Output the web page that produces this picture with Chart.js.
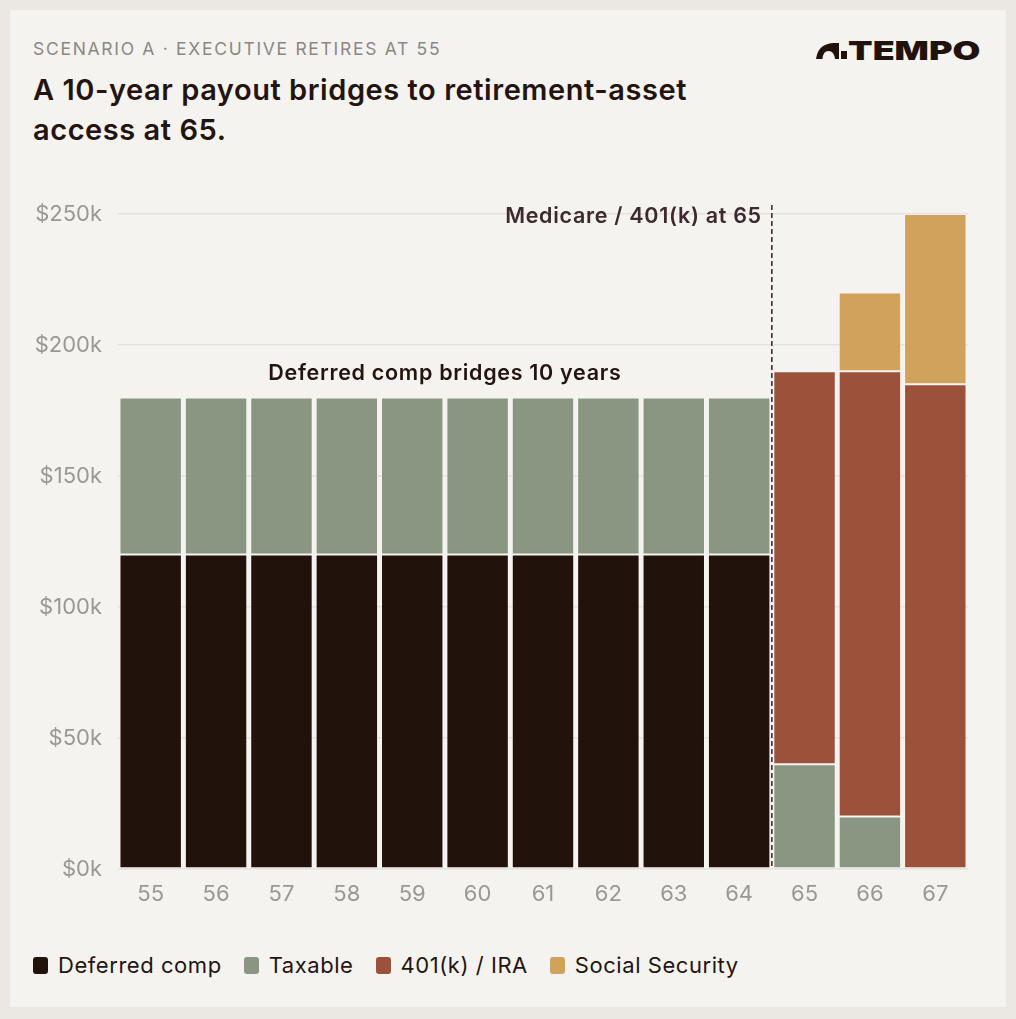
<!DOCTYPE html>
<html>
<head>
<meta charset="utf-8">
<script src="https://cdn.jsdelivr.net/npm/chart.js@4.4.1/dist/chart.umd.min.js"></script>
<style>
  html, body { margin: 0; padding: 0; }
  body { width: 1016px; height: 1019px; background: #ebe8e3; position: relative; font-family: Inter, "Noto Sans", sans-serif; overflow: hidden; }
  .card { position: absolute; left: 10px; top: 10px; width: 996px; height: 997px; background: #f5f3ef; }
  .kicker { position: absolute; left: 33px; top: 38px; font-size: 17.5px; letter-spacing: 1.7px; color: #8b8784; font-weight: 400; white-space: nowrap; }
  .title { position: absolute; left: 33px; top: 70px; font-size: 29px; line-height: 40px; font-weight: 600; color: #24140f; letter-spacing: 0.55px; white-space: nowrap; }
  .logo { position: absolute; left: 816px; top: 35px; display: flex; align-items: center; }
  .logo span { display: inline-block; font-size: 26px; font-weight: 900; color: #22120c; letter-spacing: 0px; transform: scaleX(1.38); transform-origin: left center; margin-left: 1px; }
  #wrap { position: absolute; left: 0; top: 180px; width: 1016px; height: 760px; }
  .legend { position: absolute; left: 33px; top: 952px; display: flex; align-items: center; font-size: 22px; letter-spacing: 0.55px; color: #24140f; white-space: nowrap; }
  .legend .item { display: flex; align-items: center; margin-right: 22px; }
  .legend .sw { width: 15px; height: 17px; border-radius: 3px; margin-right: 10px; }
</style>
</head>
<body>
<div class="card"></div>
<div class="kicker">SCENARIO A · EXECUTIVE RETIRES AT 55</div>
<div class="title">A 10-year payout bridges to retirement-asset<br>access at 65.</div>
<div class="logo">
  <svg width="31" height="16" viewBox="0 0 31 16"><path d="M0 16 Q2 1 17 0 L23 0 L23 16 L19 16 Q18 8 12.5 8 Q7 8 6.5 16 Z" fill="#22120c"/><rect x="25" y="8" width="6" height="8" fill="#22120c"/></svg>
  <span>TEMPO</span>
</div>
<div id="wrap"><canvas id="chart"></canvas></div>
<div class="legend" id="legend"></div>
<script>
// Ages on the x axis
const ages = ['55', '56', '57', '58', '59', '60', '61', '62', '63', '64', '65', '66', '67'];

// Income by source, dollars per year
const deferredComp = [120000, 120000, 120000, 120000, 120000, 120000, 120000, 120000, 120000, 120000, 0, 0, 0];
const taxable = [60000, 60000, 60000, 60000, 60000, 60000, 60000, 60000, 60000, 60000, 40000, 20000, 0];
const retirement401k = [0, 0, 0, 0, 0, 0, 0, 0, 0, 0, 150000, 170000, 185000];
const socialSecurity = [0, 0, 0, 0, 0, 0, 0, 0, 0, 0, 0, 30000, 65000];

const seriesNames = ['Deferred comp', 'Taxable', '401(k) / IRA', 'Social Security'];
const seriesColors = ['#22120c', '#8a9682', '#9c513a', '#d0a25c'];
const seriesData = [deferredComp, taxable, retirement401k, socialSecurity];

const yTicks = [0, 50000, 100000, 150000, 200000, 250000];

// Legend
const legendEl = document.getElementById('legend');
seriesNames.forEach((name, i) => {
    const item = document.createElement('div');
    item.className = 'item';
    item.innerHTML = '<div class="sw" style="background:' + seriesColors[i] + '"></div>' + name;
    legendEl.appendChild(item);
});

// Annotations: the age-65 marker and bridge label
const annotations = {
    id: 'annotations',
    afterDatasetsDraw(chart) {
        const { ctx, scales: { x, y } } = chart;
        const lineX = (x.getPixelForValue(9) + x.getPixelForValue(10)) / 2;
        const topY = y.getPixelForValue(250000);
        ctx.save();
        ctx.strokeStyle = '#3b2127';
        ctx.lineWidth = 1.5;
        ctx.setLineDash([5, 3]);
        ctx.beginPath();
        ctx.moveTo(lineX, topY - 9);
        ctx.lineTo(lineX, y.getPixelForValue(0));
        ctx.stroke();
        ctx.setLineDash([]);

        ctx.font = '600 21.5px Inter, "Noto Sans", sans-serif';
        ctx.letterSpacing = '0.7px';
        ctx.fillStyle = '#3d2a2e';
        ctx.textAlign = 'right';
        ctx.textBaseline = 'middle';
        ctx.fillText('Medicare / 401(k) at 65', lineX - 10, topY + 3);

        const midX = (x.getPixelForValue(0) + x.getPixelForValue(9)) / 2;
        ctx.fillStyle = '#24140f';
        ctx.textAlign = 'center';
        ctx.fillText('Deferred comp bridges 10 years', midX, y.getPixelForValue(180000) - 24);
        ctx.restore();
    }
};

new Chart(document.getElementById('chart').getContext('2d'), {
    type: 'bar',
    data: {
        labels: ages,
        datasets: seriesNames.map((name, i) => ({
            label: name,
            data: seriesData[i],
            backgroundColor: seriesColors[i],
            borderColor: 'rgba(255,255,255,0.35)',
            borderWidth: 1,
            borderSkipped: false,
            barPercentage: 1,
            categoryPercentage: 0.955
        }))
    },
    options: {
        responsive: true,
        maintainAspectRatio: false,
        animation: false,
        layout: { padding: { top: 34, right: 48, bottom: 0, left: 0 } },
        plugins: {
            legend: { display: false },
            tooltip: { enabled: false }
        },
        scales: {
            x: {
                stacked: true,
                grid: { display: false },
                border: { display: false },
                ticks: {
                    color: '#9a9794',
                    font: { family: 'Inter, "Noto Sans", sans-serif', size: 22 },
                    padding: 4,
                    maxRotation: 0
                },
                afterFit(scale) { scale.height = 71; }
            },
            y: {
                stacked: true,
                min: 0,
                max: 250000,
                afterBuildTicks(scale) { scale.ticks = yTicks.map(v => ({ value: v })); },
                grid: { color: '#e5e2dd', lineWidth: 1.5, drawTicks: false },
                border: { display: false },
                ticks: {
                    color: '#9a9794',
                    font: { family: 'Inter, "Noto Sans", sans-serif', size: 22 },
                    padding: 16,
                    callback: v => '$' + (v / 1000) + 'k'
                },
                afterFit(scale) { scale.width = 118; }
            }
        }
    },
    plugins: [annotations]
});
</script>
</body>
</html>
